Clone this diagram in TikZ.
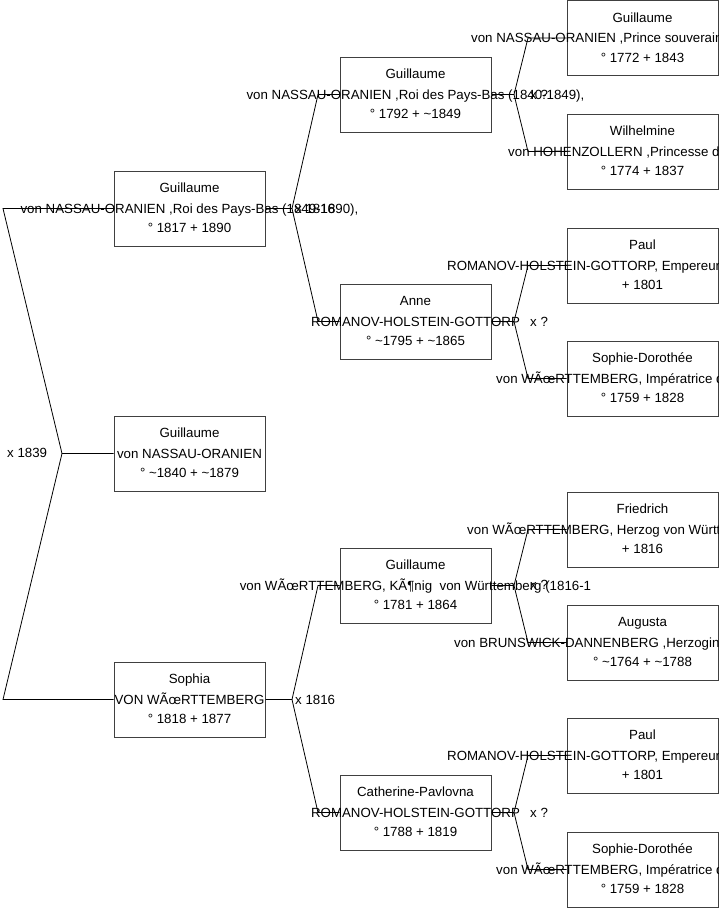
\documentclass[tikz,border=0pt]{standalone}
\usepackage{fontspec}
\setmainfont{Liberation Sans}
\newcommand\pbox[6]{% name, cx, cy, line1, line2, line3
  \node[box] (#1) at (#2,#3) {};
  \node[txt] (#1-a) at ({#2},{#3-15.8}) {#4};
  \node[txt] (#1-b) at ({#2},{#3+4.8}) {#5};
  \node[txt] (#1-c) at ({#2},{#3+24.3}) {#6};}
\newcommand\pboxw[7]{% name, cx, cy, line1, line2, line3, x of line2 start
  \node[box] (#1) at (#2,#3) {};
  \node[txt] (#1-a) at ({#2},{#3-15.8}) {#4};
  \node[txt,anchor=base west] (#1-b) at ({#7},{#3+4.8}) {#5};
  \node[txt] (#1-c) at ({#2},{#3+24.3}) {#6};}
\begin{document}
\begin{tikzpicture}[x=1pt,y=-1pt,
  box/.style={draw=black!75,line width=1pt,minimum width=151pt,minimum height=75pt,inner sep=0pt},
  conn/.style={draw=black,line width=0.8pt},
  txt/.style={inner sep=0pt,font=\fontsize{13.3}{15}\selectfont,anchor=base,text=black},
  lbl/.style={txt,anchor=base west}]
\useasboundingbox (0,0) rectangle (719,908);
\clip (0,0) rectangle (719,908);
% column 1
\pbox{A}{189.5}{208.5}{Guillaume}{von NASSAU-ORANIEN ,Roi des Pays-Bas (1849-1890),}{° 1817 + 1890}
\pbox{B}{189.5}{453.5}{Guillaume}{von NASSAU-ORANIEN}{° \textasciitilde1840 + \textasciitilde1879}
\pbox{C}{189.5}{699.5}{Sophia}{VON WÃœRTTEMBERG}{° 1818 + 1877}
% column 2
\pbox{D}{415.5}{94.5}{Guillaume}{von NASSAU-ORANIEN ,Roi des Pays-Bas (1840-1849),}{° 1792 + \textasciitilde1849}
\pbox{E}{415.5}{321.5}{Anne}{ROMANOV-HOLSTEIN-GOTTORP}{° \textasciitilde1795 + \textasciitilde1865}
\pbox{F}{415.5}{585.5}{Guillaume}{von WÃœRTTEMBERG, KÃ¶nig\ \ von Württemberg (1816-1}{° 1781 + 1864}
\pbox{G}{415.5}{812.5}{Catherine-Pavlovna}{ROMANOV-HOLSTEIN-GOTTORP}{° 1788 + 1819}
% column 3
\pboxw{H}{642.5}{38}{Guillaume}{von NASSAU-ORANIEN ,Prince souverain}{° 1772 + 1843}{471}
\pboxw{I}{642.5}{151.5}{Wilhelmine}{von HOHENZOLLERN ,Princesse de}{° 1774 + 1837}{508}
\pboxw{J}{642.5}{265.5}{Paul}{ROMANOV-HOLSTEIN-GOTTORP, Empereur}{+ 1801}{447}
\pboxw{K}{642.5}{378.5}{Sophie-Dorothée}{von WÃœRTTEMBERG, Impératrice de}{° 1759 + 1828}{496}
\pboxw{L}{642.5}{529.5}{Friedrich}{von WÃœRTTEMBERG, Herzog von Württemberg}{+ 1816}{467}
\pboxw{M}{642.5}{642.5}{Augusta}{von BRUNSWICK-DANNENBERG ,Herzogin}{° \textasciitilde1764 + \textasciitilde1788}{454}
\pboxw{N}{642.5}{755.5}{Paul}{ROMANOV-HOLSTEIN-GOTTORP, Empereur}{+ 1801}{447}
\pboxw{O}{642.5}{869.5}{Sophie-Dorothée}{von WÃœRTTEMBERG, Impératrice de}{° 1759 + 1828}{496}
% junctions
\coordinate (jB) at (62,453.5);
\coordinate (tA) at (3,208.5);
\coordinate (tC) at (3,699.5);
\coordinate (jA) at (292,208.5);
\coordinate (tD) at (318,94.5);
\coordinate (tE) at (318,321.5);
\coordinate (jC) at (292,699.5);
\coordinate (tF) at (318,585.5);
\coordinate (tG) at (318,812.5);
\coordinate (jD) at (514,94.5);
\coordinate (tH) at (528,38);
\coordinate (tI) at (528,151.5);
\coordinate (jE) at (514,321.5);
\coordinate (tJ) at (528,265.5);
\coordinate (tK) at (528,378.5);
\coordinate (jF) at (514,585.5);
\coordinate (tL) at (528,529.5);
\coordinate (tM) at (528,642.5);
\coordinate (jG) at (514,812.5);
\coordinate (tN) at (528,755.5);
\coordinate (tO) at (528,869.5);
% connectors
\draw[conn] (B.west) -- (jB) -- (tA) -- (A.west);
\draw[conn] (jB) -- (tC) -- (C.west);
\draw[conn] (A.east) -- (jA) -- (tD) -- (D.west);
\draw[conn] (jA) -- (tE) -- (E.west);
\draw[conn] (C.east) -- (jC) -- (tF) -- (F.west);
\draw[conn] (jC) -- (tG) -- (G.west);
\draw[conn] (D.east) -- (jD) -- (tH) -- (H.west);
\draw[conn] (jD) -- (tI) -- (I.west);
\draw[conn] (E.east) -- (jE) -- (tJ) -- (J.west);
\draw[conn] (jE) -- (tK) -- (K.west);
\draw[conn] (F.east) -- (jF) -- (tL) -- (L.west);
\draw[conn] (jF) -- (tM) -- (M.west);
\draw[conn] (G.east) -- (jG) -- (tN) -- (N.west);
\draw[conn] (jG) -- (tO) -- (O.west);
% marriage labels
\node[lbl] (mB) at (7,457) {x 1839};
\node[lbl] (mA) at (295,213) {x 1816};
\node[lbl] (mC) at (295,704) {x 1816};
\node[lbl] (mD) at (530,99) {x ?};
\node[lbl] (mE) at (530,326) {x ?};
\node[lbl] (mF) at (530,589) {x ?};
\node[lbl] (mG) at (530,817) {x ?};
\end{tikzpicture}
\end{document}
